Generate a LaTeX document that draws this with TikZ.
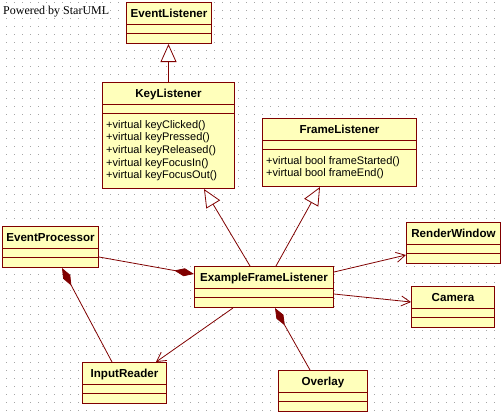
\documentclass[tikz,border=0pt]{standalone}
\usepackage{fontspec}
\setmainfont{Liberation Sans}
\newfontfamily\notefont{Liberation Serif}
\usepackage{xcolor}
\usetikzlibrary{arrows.meta, calc}

\definecolor{umlred}{RGB}{128,0,0}
\definecolor{umlfill}{RGB}{255,255,187}
\definecolor{griddot}{RGB}{165,165,165}

\tikzset{
  classbox/.style={
    rectangle, draw=umlred, fill=umlfill,
    line width=1pt, inner sep=0pt, anchor=north west
  },
  classname/.style={
    font=\fontsize{11.6}{13}\selectfont\bfseries,
    inner sep=0pt, text height=8pt, text depth=0pt
  },
  classops/.style={
    font=\fontsize{11}{12.6}\selectfont, align=left,
    inner xsep=4pt, inner ysep=0pt, anchor=north west
  },
  sepline/.style={draw=umlred, line width=1pt},
  gen/.style={draw=umlred, line width=0.8pt,
    -{Triangle[open, length=18pt, width=16pt, fill=white]}},
  comp/.style={draw=umlred, line width=0.8pt,
    {Diamond[length=20pt, width=8pt]}-},
  assoc/.style={draw=umlred, line width=0.8pt,
    -{Straight Barb[length=9pt, width=10pt]}},
}

% name, top left corner, width, height of operations, title, operations
\newcommand{\umlclass}[6]{%
  \node[classbox, minimum width=#3, minimum height=31pt+#4] (#1) at (#2) {};
  \node[classname] (#1-name) at ([yshift=-11pt]#1.north) {#5};
  \draw[sepline] ([yshift=-22pt]#1.north west) -- ([yshift=-22pt]#1.north east);
  \draw[sepline] ([yshift=-31pt]#1.north west) -- ([yshift=-31pt]#1.north east);
  \node[classops, minimum height=#4] (#1-ops) at ([yshift=-31pt]#1.north west) {#6};
}

\begin{document}
\begin{tikzpicture}[x=1pt, y=-1pt]
  \useasboundingbox (0,0) rectangle (501,413);
  \fill[white] (0,0) rectangle (501,413);
  \foreach \gx in {6,14,...,500}
    \foreach \gy in {2,10,...,412}
      \fill[griddot] (\gx-0.5,\gy-0.5) rectangle ++(1,1);

  \node[font=\notefont\fontsize{12}{14}\selectfont, anchor=base west, inner sep=0pt]
    (powered) at (3,14) {Powered by StarUML};

  \umlclass{el}{126,2}{85pt}{10pt}{EventListener}{}
  \umlclass{kl}{102,82}{132pt}{75pt}{KeyListener}%
    {+virtual keyClicked()\\+virtual keyPressed()\\+virtual keyReleased()\\%
     +virtual keyFocusIn()\\+virtual keyFocusOut()}
  \umlclass{fl}{262,118}{154pt}{37pt}{FrameListener}%
    {+virtual bool frameStarted()\\+virtual bool frameEnd()}
  \umlclass{ep}{2,226}{96pt}{10pt}{EventProcessor}{}
  \umlclass{efl}{194,266}{139pt}{10pt}{ExampleFrameListener}{}
  \umlclass{rw}{406,222}{94pt}{10pt}{RenderWindow}{}
  \umlclass{cam}{411,286}{83pt}{10pt}{Camera}{}
  \umlclass{ir}{82,362}{84pt}{10pt}{InputReader}{}
  \umlclass{ov}{278,370}{89pt}{10pt}{Overlay}{}

  % generalization
  \draw[gen] (kl.north) -- (kl.north |- el.south);
  \draw[gen] ([xshift=56pt]efl.north west) -- ([xshift=102pt]kl.south west);
  \draw[gen] ([xshift=82pt]efl.north west) -- ([xshift=58pt]fl.south west);

  % composition
  \draw[comp] ([yshift=-8pt]efl.north west) -- ([yshift=-31pt]ep.north east);
  \draw[comp] ([xshift=60pt]ep.south west) -- ([xshift=30pt]ir.north west);
  \draw[comp] ([xshift=81pt]efl.south west) -- ([xshift=32pt]ov.north west);

  % navigable association
  \draw[assoc] ([xshift=39pt]efl.south west) -- ([xshift=74pt]ir.north west);
  \draw[assoc] ([yshift=-6pt]efl.north east) -- ([yshift=-33pt]rw.north west);
  \draw[assoc] ([yshift=-28pt]efl.north east) -- ([yshift=-16pt]cam.north west);
\end{tikzpicture}
\end{document}
